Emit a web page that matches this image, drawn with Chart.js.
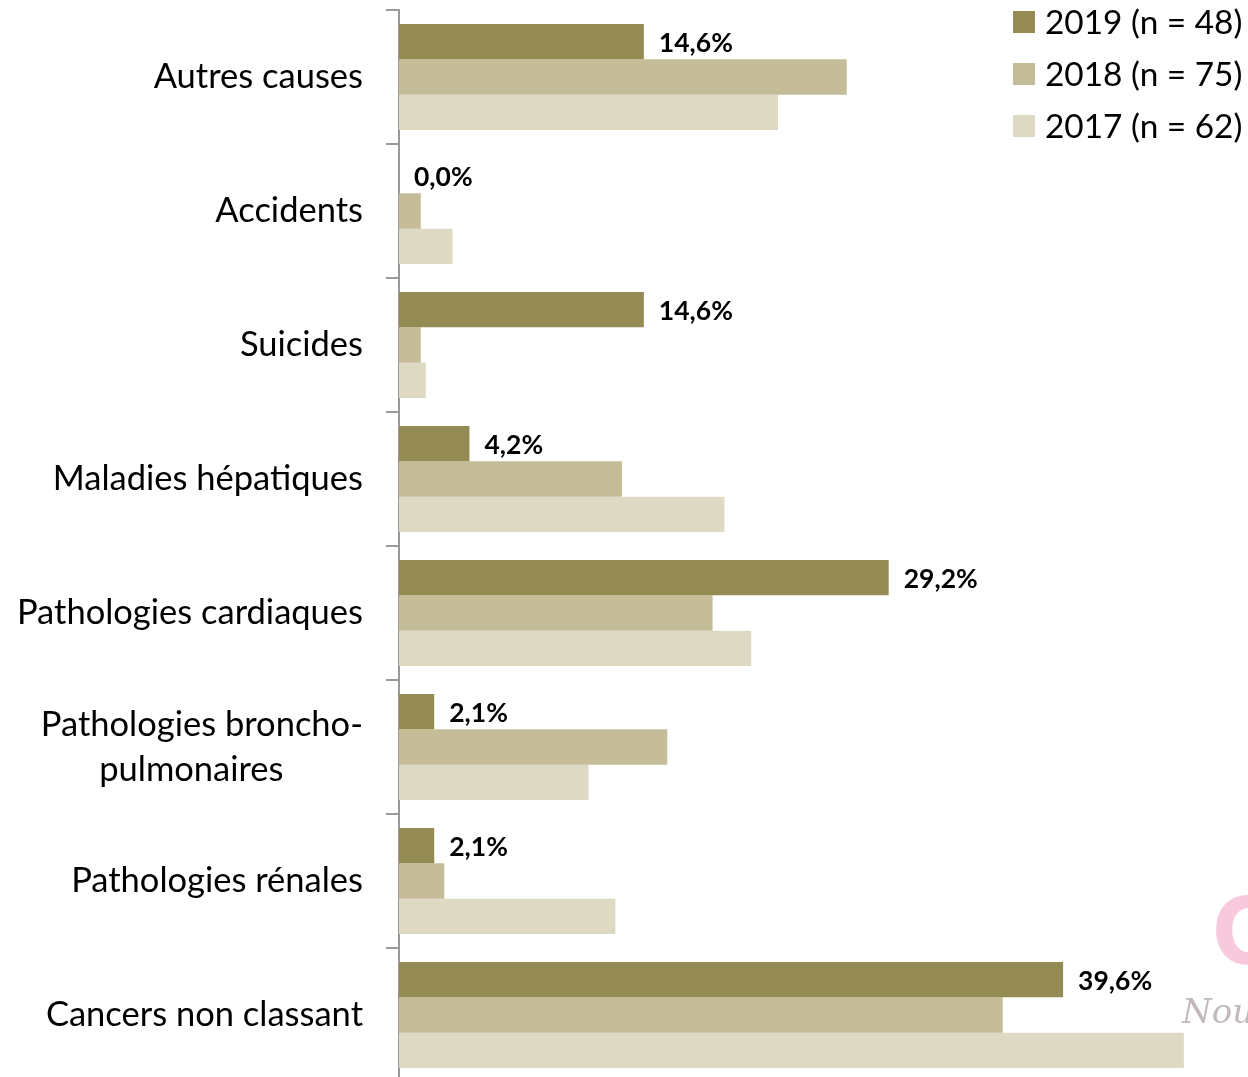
<!DOCTYPE html>
<html>
<head>
<meta charset="utf-8">
<script src="https://cdn.jsdelivr.net/npm/chart.js@4.4.1/dist/chart.umd.min.js"></script>
<style>
  html, body { margin: 0; padding: 0; background: #fff; overflow: hidden; }
  #wrap { width: 1248px; height: 1092px; }
</style>
</head>
<body>
<div id="wrap"><canvas id="c"></canvas></div>
<script>
// causes de décès, % par année
const causes = [
  'Autres causes',
  'Accidents',
  'Suicides',
  'Maladies hépatiques',
  'Pathologies cardiaques',
  ['Pathologies broncho-', 'pulmonaires         '],
  'Pathologies rénales',
  'Cancers non classant'
]
const v2019 = [14.6, 0.0, 14.6, 4.2, 29.2, 2.1, 2.1, 39.6]
const v2018 = [26.7, 1.3, 1.3, 13.3, 18.7, 16.0, 2.7, 36.0]
const v2017 = [22.6, 3.2, 1.6, 19.4, 21.0, 11.3, 12.9, 46.8]
const seriesLabels = ['2019 (n = 48)', '2018 (n = 75)', '2017 (n = 62)']
const colors = ['#948a54', '#c4bd97', '#ddd9c3']

const FONT = 'Lato, "Open Sans", sans-serif'

// valeurs 2019 au bout des barres
const valueLabels = {
  id: 'valueLabels',
  afterDatasetsDraw(chart) {
    const ctx = chart.ctx
    const meta = chart.getDatasetMeta(0)
    ctx.save()
    ctx.font = 'bold 26.5px ' + FONT
    ctx.fillStyle = '#000'
    ctx.textAlign = 'left'
    ctx.textBaseline = 'middle'
    meta.data.forEach((bar, i) => {
      const txt = v2019[i].toFixed(1).replace('.', ',') + '%'
      ctx.fillText(txt, bar.x + 15, bar.y + 2)
    })
    ctx.restore()
  }
}

// légende dans le coin haut droit
const cornerLegend = {
  id: 'cornerLegend',
  afterDraw(chart) {
    const ctx = chart.ctx
    ctx.save()
    ctx.font = '33.4px ' + FONT
    ctx.textBaseline = 'middle'
    ctx.textAlign = 'left'
    seriesLabels.forEach((lab, i) => {
      const y = 22 + i * 52
      ctx.fillStyle = colors[i]
      ctx.fillRect(1013, y - 11, 22, 22)
      ctx.fillStyle = '#000'
      ctx.fillText(lab, 1045, y + 1)
    })
    // logo coupé en bas à droite
    ctx.fillStyle = '#f8c9dd'
    ctx.font = 'bold 92px "Liberation Sans Narrow", "DejaVu Sans Condensed", sans-serif'
    ctx.fillText('C', 1212, 940)
    ctx.fillStyle = '#c2bab8'
    ctx.font = 'italic 34px "DejaVu Serif", serif'
    ctx.fillText('Nouv', 1182, 1014)
    ctx.restore()
  }
}

new Chart(document.getElementById('c'), {
  type: 'bar',
  data: {
    labels: causes,
    datasets: [
      { label: seriesLabels[0], data: v2019, backgroundColor: colors[0] },
      { label: seriesLabels[1], data: v2018, backgroundColor: colors[1] },
      { label: seriesLabels[2], data: v2017, backgroundColor: colors[2] }
    ]
  },
  options: {
    indexAxis: 'y',
    responsive: true,
    maintainAspectRatio: false,
    animation: false,
    layout: { padding: { top: 10, bottom: 10, right: 10.5, left: 0 } },
    datasets: { bar: { categoryPercentage: 0.79, barPercentage: 1.0 } },
    plugins: { legend: { display: false }, tooltip: { enabled: false } },
    scales: {
      x: { display: false, min: 0, max: 50 },
      y: {
        afterFit(s) {
          s.width = 399
          s.paddingTop = 0
          s.paddingBottom = 0
        },
        border: { color: '#9a9a9a', width: 2 },
        grid: { drawOnChartArea: false, tickLength: 13, color: '#9a9a9a', lineWidth: 2 },
        ticks: { color: '#000', padding: 23, font: { family: FONT, size: 34.5, lineHeight: 1.3 } }
      }
    }
  },
  plugins: [valueLabels, cornerLegend]
})
</script>
</body>
</html>
